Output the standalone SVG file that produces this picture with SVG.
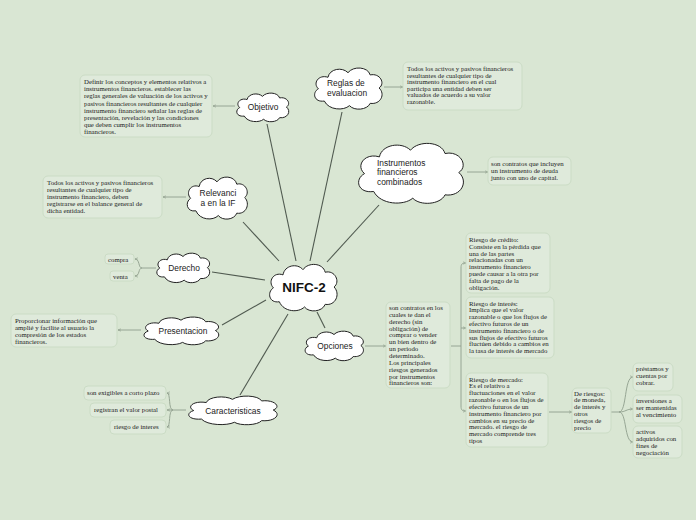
<svg xmlns="http://www.w3.org/2000/svg" xmlns:xlink="http://www.w3.org/1999/xlink" width="696" height="520" viewBox="0 0 696 520">
<style>
.bg{fill:#d9e6d3}
.box{fill:#dfeadb;stroke:#cbdcc5;stroke-width:1}
.t{font-family:"Liberation Serif","DejaVu Serif",serif;font-size:6.8px;fill:#222}
.c{font-family:"Liberation Sans","DejaVu Sans",sans-serif;font-size:8.4px;fill:#222}
.main{stroke:#505a50;stroke-width:1.1;fill:none}
.sub{stroke:#8e9e8c;stroke-width:0.9;fill:none}
.cl{fill:#fff;stroke:#222;stroke-width:1}
</style>
<defs>
<symbol id="cloud" viewBox="0 0 100 60" preserveAspectRatio="none">
<path vector-effect="non-scaling-stroke" class="cl" d="M18,47 C4,49 1,36 10,31 C2,24 10,12 23,16 C25,5 42,2 50,10 C57,1 77,2 80,13 C93,10 101,24 92,30 C101,38 94,52 80,50 C76,59 58,60 52,53 C44,60 24,59 18,47 Z"/>
</symbol>
<marker id="ar" viewBox="0 0 6 6" refX="5.5" refY="3" markerWidth="4" markerHeight="4" orient="auto">
<path d="M0,0.8 L5.5,3 L0,5.2" fill="none" stroke="#8e9e8c" stroke-width="1"/>
</marker>
</defs>
<rect class="bg" x="0" y="0" width="696" height="520"/>

<g id="connectors">
<line class="main" x1="267" y1="124" x2="296" y2="261"/>
<line class="main" x1="342" y1="112" x2="310" y2="261"/>
<line class="main" x1="379" y1="205" x2="327" y2="262"/>
<line class="main" x1="243" y1="222" x2="279" y2="261"/>
<line class="main" x1="212" y1="272" x2="265" y2="280"/>
<line class="main" x1="222" y1="325" x2="266" y2="300"/>
<line class="main" x1="325" y1="328" x2="317" y2="312"/>
<line class="main" x1="240" y1="395" x2="288" y2="314"/>

<path class="sub" marker-end="url(#ar)" d="M235,106 H213"/>
<path class="sub" marker-end="url(#ar)" d="M384,87 H403"/>
<path class="sub" marker-end="url(#ar)" d="M467,172 H488"/>
<path class="sub" marker-end="url(#ar)" d="M186,197 H163"/>
<path class="sub" marker-end="url(#ar)" d="M141,330 H118"/>
<path class="sub" marker-end="url(#ar)" d="M365,346 H386"/>
<path class="sub" d="M156,268 H142"/>
<path class="sub" marker-end="url(#ar)" d="M142,268 C138,268 140,259 135,259"/>
<path class="sub" marker-end="url(#ar)" d="M142,268 C138,268 140,276 135,276"/>
<path class="sub" d="M186,410 H173"/>
<path class="sub" marker-end="url(#ar)" d="M173,410 C168,410 171,393 167,393"/>
<path class="sub" marker-end="url(#ar)" d="M173,410 H167"/>
<path class="sub" marker-end="url(#ar)" d="M173,410 C168,410 171,427 167,427"/>
<path class="sub" d="M451,346 H461"/>
<path class="sub" marker-end="url(#ar)" d="M461,346 V268 C461,264 462,263 466,263"/>
<path class="sub" marker-end="url(#ar)" d="M461,328 H466"/>
<path class="sub" marker-end="url(#ar)" d="M461,346 V406 C461,410 462,411 466,411"/>
<path class="sub" marker-end="url(#ar)" d="M549,412 H572"/>
<path class="sub" d="M611,412 H619"/>
<path class="sub" marker-end="url(#ar)" d="M619,412 C627,412 624,377 633,377"/>
<path class="sub" marker-end="url(#ar)" d="M619,412 C626,412 626,409 633,409"/>
<path class="sub" marker-end="url(#ar)" d="M619,412 C627,412 624,442 633,442"/>
</g>

<g id="nifc2">
<use xlink:href="#cloud" x="266" y="261" width="74" height="52"/>
<text x="304" y="292" text-anchor="middle" font-family="Liberation Sans,DejaVu Sans,sans-serif" font-size="13.5" font-weight="bold" fill="#111">NIFC-2</text>
</g>

<g id="objetivo">
<use xlink:href="#cloud" x="234" y="91" width="57" height="32"/>
<text class="c" x="263" y="110" text-anchor="middle">Objetivo</text>
</g>
<g id="objetivo-text">
<rect class="box" x="80" y="75" width="132" height="62" rx="5"/>
<text class="t"><tspan x="84" y="84">Definir los conceptos y elementos relativos a</tspan><tspan x="84" y="91.2">instrumentos financieros. establecer las</tspan><tspan x="84" y="98.4">reglas generales de valuación de los activos y</tspan><tspan x="84" y="105.6">pasivos financieros resultantes de cualquier</tspan><tspan x="84" y="112.8">instrumento financiero señalar las reglas de</tspan><tspan x="84" y="120">presentación, revelación y las condiciones</tspan><tspan x="84" y="127.2">que deben cumplir los instrumentos</tspan><tspan x="84" y="134.4">financieros.</tspan></text>
</g>

<g id="reglas">
<use xlink:href="#cloud" x="311" y="65" width="74" height="46"/>
<text class="c"><tspan x="327" y="86">Reglas de</tspan><tspan x="327" y="96">evaluacion</tspan></text>
</g>
<g id="reglas-text">
<rect class="box" x="403" y="62" width="119" height="48" rx="5"/>
<text class="t"><tspan x="407" y="71">Todos los activos y pasivos financieros</tspan><tspan x="407" y="77.6">resultantes de cualquier tipo de</tspan><tspan x="407" y="84.2">instrumento financiero en el cual</tspan><tspan x="407" y="90.8">participa una entidad deben ser</tspan><tspan x="407" y="97.4">valuados de acuerdo a su valor</tspan><tspan x="407" y="104">razonable.</tspan></text>
</g>

<g id="instrumentos">
<use xlink:href="#cloud" x="353" y="139" width="115" height="67"/>
<text class="c"><tspan x="377" y="166">Instrumentos</tspan><tspan x="377" y="175">financieros</tspan><tspan x="377" y="185">combinados</tspan></text>
</g>
<g id="instrumentos-text">
<rect class="box" x="488" y="157" width="83" height="28" rx="5"/>
<text class="t"><tspan x="491" y="166">son contratos que incluyen</tspan><tspan x="491" y="173">un instrumento de deuda</tspan><tspan x="491" y="180">junto con uno de capital.</tspan></text>
</g>

<g id="relevancia">
<use xlink:href="#cloud" x="184" y="174" width="66" height="47"/>
<text class="c" text-anchor="middle"><tspan x="218" y="196">Relevanci</tspan><tspan x="218" y="206">a en la IF</tspan></text>
</g>
<g id="relevancia-text">
<rect class="box" x="43" y="176" width="119" height="42" rx="5"/>
<text class="t"><tspan x="47" y="185">Todos los activos y pasivos financieros</tspan><tspan x="47" y="192">resultantes de cualquier tipo de</tspan><tspan x="47" y="199">instrumento financiero, deben</tspan><tspan x="47" y="206">registrarse en el balance general de</tspan><tspan x="47" y="213">dicha entidad.</tspan></text>
</g>

<g id="derecho">
<use xlink:href="#cloud" x="154" y="251" width="58" height="33"/>
<text class="c" x="184" y="271" text-anchor="middle">Derecho</text>
</g>
<g id="compra">
<rect class="box" x="105" y="254" width="29" height="10" rx="3"/>
<text class="t" x="108" y="261.5">compra</text>
</g>
<g id="venta">
<rect class="box" x="110" y="271" width="24" height="10" rx="3"/>
<text class="t" x="113" y="278.5">venta</text>
</g>

<g id="presentacion">
<use xlink:href="#cloud" x="140" y="315" width="82" height="31"/>
<text class="c" x="183" y="334" text-anchor="middle">Presentacion</text>
</g>
<g id="presentacion-text">
<rect class="box" x="11" y="314" width="106" height="33" rx="5"/>
<text class="t"><tspan x="15" y="323">Proporcionar información que</tspan><tspan x="15" y="330">amplié y facilite al usuario la</tspan><tspan x="15" y="337">compresión de los estados</tspan><tspan x="15" y="344">financieros.</tspan></text>
</g>

<g id="opciones">
<use xlink:href="#cloud" x="302" y="329" width="64" height="33"/>
<text class="c" x="335" y="349" text-anchor="middle">Opciones</text>
</g>
<g id="opciones-text">
<rect class="box" x="386" y="302" width="64" height="86" rx="5"/>
<text class="t"><tspan x="389" y="310">son contratos en los</tspan><tspan x="389" y="316.85">cuales te dan el</tspan><tspan x="389" y="323.7">derecho (sin</tspan><tspan x="389" y="330.55">obligación) de</tspan><tspan x="389" y="337.4">comprar o vender</tspan><tspan x="389" y="344.25">un bien dentro de</tspan><tspan x="389" y="351.1">un periodo</tspan><tspan x="389" y="357.95">determinado.</tspan><tspan x="389" y="364.8">Los principales</tspan><tspan x="389" y="371.65">riesgos generados</tspan><tspan x="389" y="378.5">por instrumentos</tspan><tspan x="389" y="385.35">financieros son:</tspan></text>
</g>

<g id="riesgo-credito">
<rect class="box" x="466" y="233" width="84" height="60" rx="5"/>
<text class="t"><tspan x="469" y="242">Riesgo de crédito:</tspan><tspan x="469" y="248.8">Consiste en la pérdida que</tspan><tspan x="469" y="255.6">una de las partes</tspan><tspan x="469" y="262.4">relacionadas con un</tspan><tspan x="469" y="269.2">instrumento financiero</tspan><tspan x="469" y="276">puede causar a la otra por</tspan><tspan x="469" y="282.8">falta de pago de la</tspan><tspan x="469" y="289.6">obligación.</tspan></text>
</g>

<g id="riesgo-interes">
<rect class="box" x="466" y="297" width="88" height="61" rx="5"/>
<text class="t"><tspan x="469" y="305.5">Riesgo de interés:</tspan><tspan x="469" y="312.3">Implica que el valor</tspan><tspan x="469" y="319.1">razonable o que los flujos de</tspan><tspan x="469" y="325.9">efectivo futuros de un</tspan><tspan x="469" y="332.7">instrumento financiero o de</tspan><tspan x="469" y="339.5">sus flujos de efectivo futuros</tspan><tspan x="469" y="346.3">fluctúen debido a cambios en</tspan><tspan x="469" y="353.1">la tasa de interés de mercado</tspan></text>
</g>

<g id="riesgo-mercado">
<rect class="box" x="466" y="373" width="82" height="74" rx="5"/>
<text class="t"><tspan x="469" y="381.5">Riesgo de mercado:</tspan><tspan x="469" y="388.35">Es el relativo a</tspan><tspan x="469" y="395.2">fluctuaciones en el valor</tspan><tspan x="469" y="402.05">razonable o en los flujos de</tspan><tspan x="469" y="408.9">efectivo futuros de un</tspan><tspan x="469" y="415.75">instrumento financiero por</tspan><tspan x="469" y="422.6">cambios en su precio de</tspan><tspan x="469" y="429.45">mercado. el riesgo de</tspan><tspan x="469" y="436.3">mercado comprende tres</tspan><tspan x="469" y="443.15">tipos</tspan></text>
</g>

<g id="de-riesgos">
<rect class="box" x="572" y="388" width="39" height="45" rx="5"/>
<text class="t"><tspan x="574" y="395.5">De riesgos:</tspan><tspan x="574" y="402.3">de moneda,</tspan><tspan x="574" y="409.1">de interés y</tspan><tspan x="574" y="415.9">otros</tspan><tspan x="574" y="422.7">riesgos de</tspan><tspan x="574" y="429.5">precio</tspan></text>
</g>

<g id="prestamos">
<rect class="box" x="633" y="363" width="40" height="28" rx="5"/>
<text class="t"><tspan x="636" y="370.5">préstamos y</tspan><tspan x="636" y="377.5">cuentas por</tspan><tspan x="636" y="384.5">cobrar.</tspan></text>
</g>
<g id="inversiones">
<rect class="box" x="633" y="395" width="49" height="28" rx="5"/>
<text class="t"><tspan x="636" y="402.5">inversiones a</tspan><tspan x="636" y="409.5">ser mantenidas</tspan><tspan x="636" y="416.5">al vencimiento</tspan></text>
</g>
<g id="activos">
<rect class="box" x="633" y="426" width="49" height="32" rx="5"/>
<text class="t"><tspan x="636" y="433.5">activos</tspan><tspan x="636" y="440.5">adquiridos con</tspan><tspan x="636" y="447.5">fines de</tspan><tspan x="636" y="454.5">negociación</tspan></text>
</g>

<g id="caracteristicas">
<use xlink:href="#cloud" x="184" y="394" width="97" height="32"/>
<text class="c" x="233" y="414" text-anchor="middle">Caracteristicas</text>
</g>
<g id="exigibles">
<rect class="box" x="84" y="386" width="82" height="14" rx="4"/>
<text class="t" x="87" y="395">son exigibles a corto plazo</text>
</g>
<g id="registran">
<rect class="box" x="90" y="403" width="76" height="14" rx="4"/>
<text class="t" x="94" y="412">registran el valor postal</text>
</g>
<g id="riesgo-interes-c">
<rect class="box" x="110" y="420" width="56" height="14" rx="4"/>
<text class="t" x="114" y="429">riesgo de interes</text>
</g>
</svg>
